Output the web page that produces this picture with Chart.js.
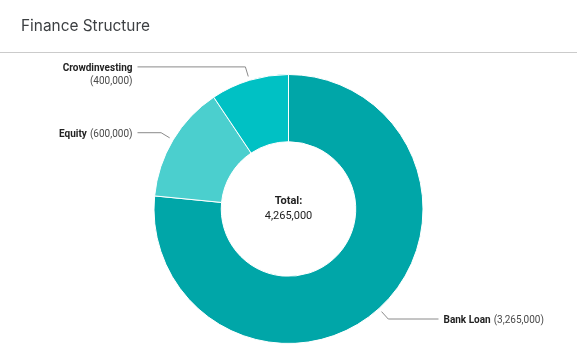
<!DOCTYPE html>
<html><head><meta charset="utf-8">
<script src="https://cdn.jsdelivr.net/npm/chart.js@4.4.0/dist/chart.umd.min.js"></script>
<style>
html,body{margin:0;padding:0;background:#fff;width:577px;height:351px;overflow:hidden;}
#hdr{position:absolute;left:0;top:0;width:577px;height:53px;border-bottom:1px solid #cbcbcb;box-sizing:border-box;}
#hdr span{position:absolute;left:21px;top:16px;font:15.4px Inter,Roboto,sans-serif;color:#3d4043;line-height:20px;}
#wrap{position:absolute;left:0;top:0;width:577px;height:351px;}
</style></head>
<body>
<div id="wrap"><canvas id="c" width="577" height="351"></canvas></div>
<div id="hdr"><span>Finance Structure</span></div>
<script>
const categories = ['Bank Loan', 'Equity', 'Crowdinvesting'];
const values = [3265000, 600000, 400000];
const colors = ['#00a6a8', '#4bcfce', '#00c1c4'];
const totalLabel = 'Total:';

const fmt = v => v.toLocaleString('en-US');
const total = values.reduce((a, b) => a + b, 0);

const leaderPlugin = {
  id: 'leaders',
  afterDatasetsDraw(chart) {
    const ctx = chart.ctx;
    const meta = chart.getDatasetMeta(0);
    ctx.save();
    meta.data.forEach((arc, i) => {
      const p = arc.getProps(['x', 'y', 'startAngle', 'endAngle', 'outerRadius'], true);
      const mid = (p.startAngle + p.endAngle) / 2;
      const c = Math.cos(mid), s = Math.sin(mid);
      const x1 = p.x + c * (p.outerRadius + 4), y1 = p.y + s * (p.outerRadius + 4);
      const x2 = p.x + c * (p.outerRadius + 14), y2 = p.y + s * (p.outerRadius + 14);
      const right = c >= 0;
      const x3 = right ? p.x + 150 : p.x - 151;
      ctx.strokeStyle = '#8a8a8a';
      ctx.lineWidth = 1;
      ctx.beginPath();
      ctx.moveTo(x1, y1); ctx.lineTo(x2, y2); ctx.lineTo(x3, y2);
      ctx.stroke();

      const name = categories[i];
      const val = '(' + fmt(values[i]) + ')';
      const bold = 'bold 10px Roboto, sans-serif';
      const reg = '10px Roboto, sans-serif';
      ctx.font = bold; const wn = ctx.measureText(name).width;
      ctx.font = reg; const wv = ctx.measureText(val).width;
      const sp = 3;
      const tx = right ? x3 + 5 : x3 - 5;
      const ty = y2 + 1.5;
      ctx.textBaseline = 'middle';
      if (wn + sp + wv > 110) {
        ctx.textAlign = right ? 'left' : 'right';
        ctx.font = bold; ctx.fillStyle = '#222';
        ctx.fillText(name, tx, ty);
        ctx.font = reg; ctx.fillStyle = '#4a4a4a';
        ctx.fillText(val, tx, ty + 13);
      } else {
        ctx.textAlign = 'left';
        const start = right ? tx : tx - (wn + sp + wv);
        ctx.font = bold; ctx.fillStyle = '#222';
        ctx.fillText(name, start, ty);
        ctx.font = reg; ctx.fillStyle = '#4a4a4a';
        ctx.fillText(val, start + wn + sp, ty);
      }
    });
    // center text
    const a = meta.data[0];
    ctx.textAlign = 'center';
    ctx.textBaseline = 'middle';
    ctx.fillStyle = '#222';
    ctx.font = 'bold 11px Roboto, sans-serif';
    ctx.fillText(totalLabel, a.x, a.y - 8);
    ctx.font = '11px Roboto, sans-serif';
    ctx.fillText(fmt(total), a.x, a.y + 7);
    ctx.restore();
  }
};

new Chart(document.getElementById('c'), {
  type: 'doughnut',
  data: {
    labels: categories,
    datasets: [{
      data: values,
      backgroundColor: colors,
      borderColor: '#ffffff',
      borderWidth: 1,
      hoverOffset: 0
    }]
  },
  options: {
    responsive: false,
    animation: false,
    cutout: '50%',
    layout: { padding: { top: 74, bottom: 7, left: 20, right: 20 } },
    plugins: { legend: { display: false }, tooltip: { enabled: false } }
  },
  plugins: [leaderPlugin]
});
</script>
</body></html>
